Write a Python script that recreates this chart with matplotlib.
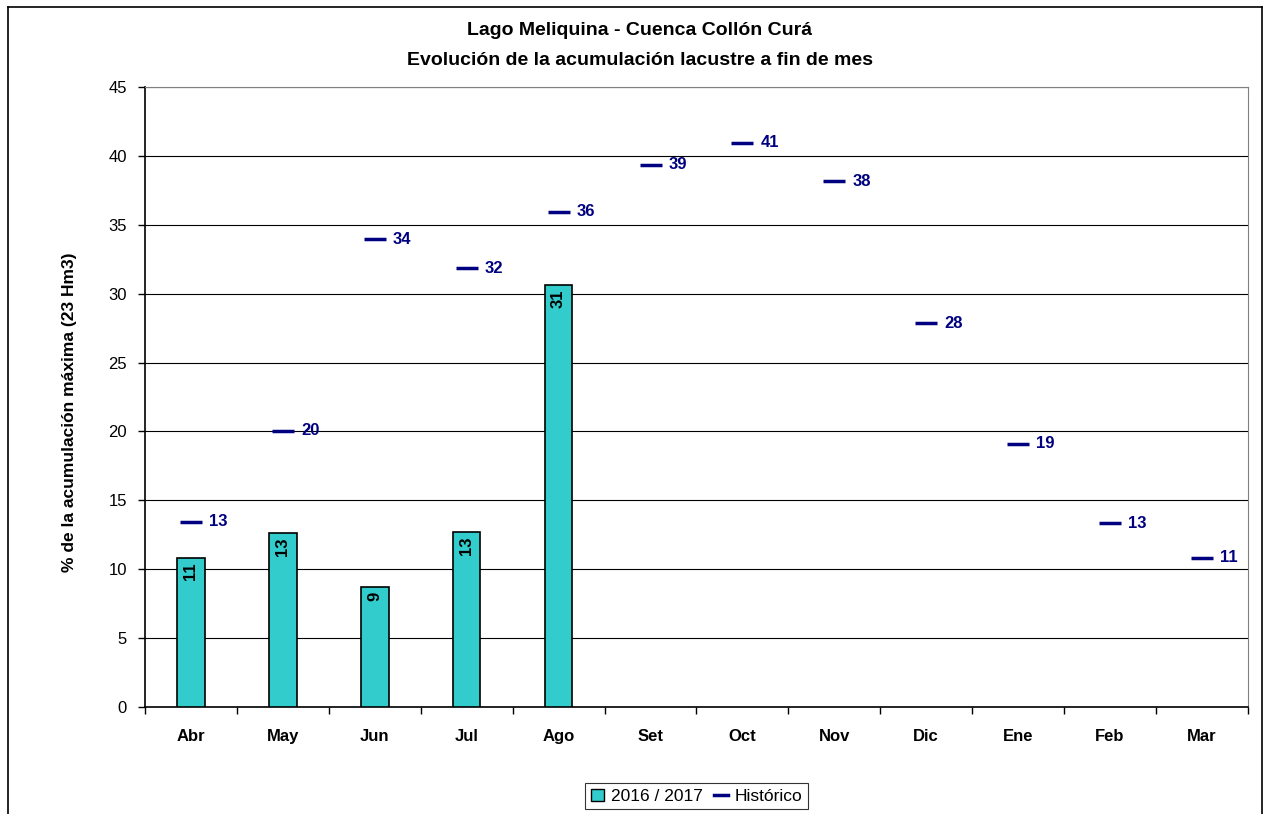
import numpy as np
import matplotlib.pyplot as plt
from matplotlib.lines import Line2D
from matplotlib.patches import Patch

plt.rcParams['font.family'] = ['Liberation Sans', 'DejaVu Sans']

meses = ["Abr", "May", "Jun", "Jul", "Ago", "Set", "Oct", "Nov", "Dic", "Ene", "Feb", "Mar"]
actual = [10.8, 12.6, 8.7, 12.7, 30.6]
historico = [13.45, 20.05, 33.95, 31.85, 35.95, 39.35, 40.95, 38.15, 27.85, 19.1, 13.35, 10.85]

fig = plt.figure(figsize=(12.64, 8.14), dpi=100)
ax = fig.add_axes([0.1147, 0.1314, 0.8726, 0.7617])

x = np.arange(len(meses))
xa = np.arange(len(actual))

# barras 2016/2017
ax.bar(xa, actual, width=0.3, color="#33CCCC", edgecolor="black", linewidth=1.2, zorder=3)
for i, v in zip(xa, actual):
    ax.annotate(f"{v:.0f}", (i, v), xytext=(0, -3), textcoords="offset points",
                rotation=90, ha="center", va="top", fontsize=12, fontweight="bold", zorder=4)

# historico
ax.plot(x, historico, linestyle="none", marker="_", markersize=16, markeredgewidth=2.5,
        color="#000080", zorder=4)
for i, v in zip(x, historico):
    ax.annotate(f"{v:.0f}", (i, v), xytext=(13, 0), textcoords="offset points",
                ha="left", va="center", fontsize=12, fontweight="bold", color="#000080")

ax.set_xlim(-0.5, len(meses) - 0.5)
ax.set_ylim(0, 45)
ax.set_yticks(np.arange(0, 46, 5))
ax.tick_params(axis="y", labelsize=12, length=5, width=1, pad=8)
ax.set_xticks(x)
ax.set_xticklabels(meses, fontsize=12, fontweight="bold")
ax.tick_params(axis="x", length=0, pad=16)
ax.set_xticks(np.arange(-0.5, len(meses), 1), minor=True)
ax.tick_params(axis="x", which="minor", length=5, width=1)
ax.grid(axis="y", color="black", linewidth=0.8, zorder=0)
ax.set_axisbelow(True)
for s in ["top", "right"]:
    ax.spines[s].set_color("#808080")
for s in ["left", "bottom"]:
    ax.spines[s].set_color("black")
    ax.spines[s].set_linewidth(1.2)

ax.set_ylabel("% de la acumulación máxima (23 Hm3)", fontsize=12.5, fontweight="bold")
ax.yaxis.set_label_coords(-0.0617, 0.476)

fig.text(0.506, 0.963, "Lago Meliquina - Cuenca Collón Curá", ha="center", va="center",
         fontsize=14, fontweight="bold")
fig.text(0.506, 0.926, "Evolución de la acumulación lacustre a fin de mes", ha="center", va="center",
         fontsize=14, fontweight="bold")

handles = [Patch(facecolor="#33CCCC", edgecolor="black", label="2016 / 2017"),
           Line2D([], [], color="#000080", linewidth=2.5, label="Histórico")]
leg = fig.legend(handles=handles, loc="center", bbox_to_anchor=(0.551, 0.022), ncol=2,
                 fontsize=12.5, frameon=True, fancybox=False, edgecolor="black",
                 handlelength=0.8, handletextpad=0.4, columnspacing=0.6, borderpad=0.3)
leg.get_frame().set_linewidth(0.8)

# marco exterior
fig.add_artist(Line2D([8/1264, 8/1264], [-0.01, 1 - 7/814], color="black", linewidth=1.2))
fig.add_artist(Line2D([8/1264, 1262/1264], [1 - 7/814, 1 - 7/814], color="black", linewidth=1.2))
fig.add_artist(Line2D([1262/1264, 1262/1264], [-0.01, 1 - 7/814], color="black", linewidth=1.2))

fig.savefig("out.png", dpi=100, facecolor="white")
